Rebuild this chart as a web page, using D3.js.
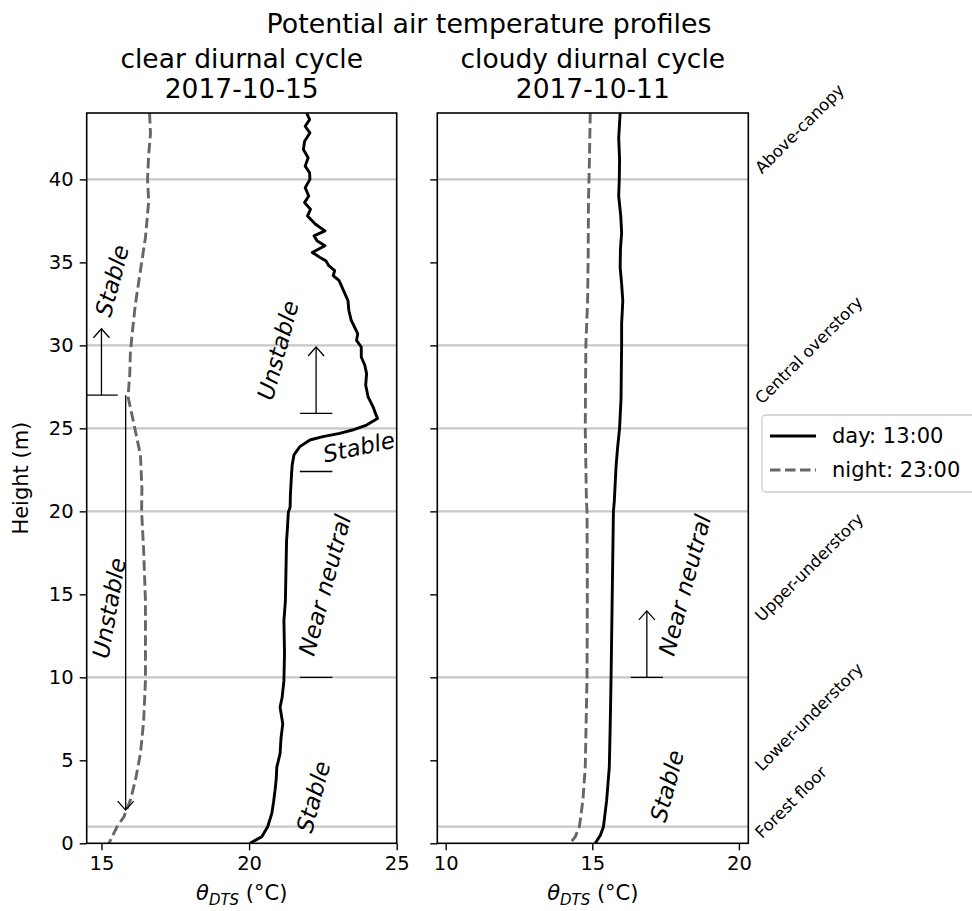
<!DOCTYPE html>
<html><head><meta charset="utf-8">
<script src="https://cdn.jsdelivr.net/npm/d3@7/dist/d3.min.js"></script>
<style>
body{margin:0;background:#fff}
text{font-family:"DejaVu Sans",sans-serif;fill:#000}
</style>
</head><body>
<svg id="c" width="972" height="911"></svg>
<script>
// ---------- data ----------
const mainTitle = "Potential air temperature profiles";
const panelTitles = [["clear diurnal cycle","2017-10-15"],["cloudy diurnal cycle","2017-10-11"]];
const heightTicks = [0,5,10,15,20,25,30,35,40];
const layerLines = [1,10,20,25,30,40];
const clearTicks = [15,20,25];
const cloudyTicks = [10,15,20];
const layerNames = ["Above-canopy","Central overstory","Upper-understory","Lower-understory","Forest floor"];
const layerLabelHeights = [40.3,26.4,13.3,4.3,0.25];
const seriesNames = ["day: 13:00","night: 23:00"];

// [height (m), theta (°C)]
const clearDay = [[44.0,21.95],[43.6,22.05],[43.2,21.9],[42.8,22.06],[42.3,21.88],[41.8,21.84],[41.3,22.0],[40.8,21.9],[40.4,22.05],[40.0,22.06],[39.5,21.9],[39.0,22.02],[38.6,21.88],[38.2,22.08],[37.8,21.98],[37.3,22.25],[36.9,22.57],[36.6,22.2],[36.3,22.3],[36.0,22.57],[35.6,22.14],[35.3,22.4],[35.1,22.6],[34.8,22.7],[34.5,22.9],[34.2,22.85],[33.9,23.05],[33.3,23.2],[32.7,23.35],[32.1,23.38],[31.5,23.46],[31.0,23.6],[30.7,23.68],[30.3,23.64],[29.9,23.8],[29.3,23.8],[28.8,23.92],[28.3,23.98],[27.6,23.95],[26.9,24.03],[26.3,24.2],[25.9,24.28],[25.6,24.35],[25.2,23.98],[24.9,23.5],[24.7,23.07],[24.5,22.5],[24.3,22.06],[23.9,21.72],[23.4,21.52],[22.8,21.46],[22.3,21.44],[21.0,21.4],[20.25,21.39],[19.95,21.33],[19.0,21.3],[18.25,21.27],[16.5,21.25],[14.6,21.23],[13.4,21.18],[11.5,21.2],[9.8,21.18],[8.8,21.12],[8.2,21.05],[7.2,21.14],[6.3,21.08],[5.4,21.05],[4.6,20.94],[3.9,20.92],[3.2,20.88],[2.5,20.83],[1.8,20.77],[1.0,20.63],[0.4,20.43],[0.0,20.03]];
const clearNight = [[44,16.63],[42.75,16.66],[41.5,16.6],[40,16.56],[38.7,16.6],[36.5,16.49],[34.5,16.32],[32.5,16.15],[30.7,16.04],[29.6,15.98],[28.3,15.96],[26.9,15.9],[25.5,16.07],[23.4,16.32],[21.4,16.37],[20.0,16.36],[17.6,16.43],[14.6,16.49],[9.8,16.49],[7.4,16.43],[5.4,16.32],[3.8,16.15],[2.6,15.98],[1.6,15.76],[1.0,15.53],[0.0,15.25]];
const cloudyDay = [[44,15.95],[42.5,15.9],[41.2,15.93],[40,15.92],[39,15.9],[37.8,15.97],[36.8,16.0],[35.8,15.96],[34.7,15.95],[33.7,16.0],[32.7,16.04],[31.3,16.0],[30,16.0],[28.5,15.99],[26.8,15.98],[25,15.93],[23.8,15.86],[22.7,15.81],[20.6,15.75],[20,15.72],[15,15.68],[10,15.64],[7,15.61],[4.6,15.58],[2.6,15.49],[1.0,15.38],[0.5,15.28],[0,15.1]];
const cloudyNight = [[44,14.93],[41,14.9],[38.7,14.87],[35.5,14.86],[32.7,14.84],[30,14.78],[25,14.76],[20.6,14.8],[20,14.82],[15,14.83],[10,14.82],[4.6,14.76],[2.6,14.68],[1,14.56],[0.4,14.42],[0,14.24]];

// annotation data (data coordinates)
const clearArrows = [{t:15.0,from:27,to:31,bar:true},{t:15.82,from:27,to:2,bar:false},{t:22.27,from:25.9,to:29.9,bar:true}];
const clearBars = [{t:22.27,h:22.4},{t:22.27,h:10}];
const clearNotes = [
  {text:"Stable",t:15.36,h:33.9,rot:-75},
  {text:"Unstable",t:15.26,h:14.17,rot:-80},
  {text:"Unstable",t:20.98,h:29.7,rot:-75},
  {text:"Stable",t:23.72,h:23.87,rot:-12},
  {text:"Near neutral",t:22.57,h:15.56,rot:-75},
  {text:"Stable",t:22.18,h:2.8,rot:-75}
];
const cloudyArrows = [{t:16.86,from:10,to:14,bar:true}];
const cloudyBars = [];
const cloudyNotes = [
  {text:"Near neutral",t:18.16,h:15.56,rot:-75},
  {text:"Stable",t:17.55,h:3.45,rot:-75}
];
const barHalf = 0.55;

// ---------- drawing ----------
const svg = d3.select("#c");
const y = d3.scaleLinear().domain([0,44]).range([843.3,113]);
const panels = [
  {x: d3.scaleLinear().domain([14.5,25]).range([86.7,396.7]), ticks: clearTicks, day: clearDay, night: clearNight, arrows: clearArrows, bars: clearBars, notes: clearNotes, title: panelTitles[0], labels:true},
  {x: d3.scaleLinear().domain([9.714,20.32]).range([437.3,748.3]), ticks: cloudyTicks, day: cloudyDay, night: cloudyNight, arrows: cloudyArrows, bars: cloudyBars, notes: cloudyNotes, title: panelTitles[1], labels:false}
];

svg.append("text").attr("x",489).attr("y",33).attr("text-anchor","middle").style("font-size","26.8px").text(mainTitle);

panels.forEach((p,i)=>{
  const x = p.x;
  const [x0,x1] = x.range();
  const cid = "clip"+i;
  svg.append("clipPath").attr("id",cid).append("rect").attr("x",x0).attr("y",y(44)).attr("width",x1-x0).attr("height",y(0)-y(44));
  const g = svg.append("g");
  // layer lines
  g.append("g").attr("clip-path",`url(#${cid})`).selectAll("line").data(layerLines).join("line")
    .attr("x1",x0).attr("x2",x1).attr("y1",d=>y(d)).attr("y2",d=>y(d))
    .attr("stroke","#c8c8c8").attr("stroke-width",2.2);
  const line = d3.line().x(d=>x(d[1])).y(d=>y(d[0]));
  const cg = g.append("g").attr("clip-path",`url(#${cid})`);
  cg.append("path").datum(p.night).attr("d",line).attr("fill","none").attr("stroke","#666")
    .attr("stroke-width",2.9).attr("stroke-dasharray","10.5,4.5");
  cg.append("path").datum(p.day).attr("d",line).attr("fill","none").attr("stroke","#000")
    .attr("stroke-width",2.9).attr("stroke-linejoin","round");
  // annotation arrows and bars
  const ag = g.append("g").attr("clip-path",`url(#${cid})`).attr("stroke","#000").attr("stroke-width",1.3).attr("fill","none");
  p.arrows.forEach(a=>{
    const ax = x(a.t), ys = y(a.from), ye = y(a.to);
    ag.append("line").attr("x1",ax).attr("x2",ax).attr("y1",ys).attr("y2",ye);
    const dir = ye < ys ? 1 : -1;
    ag.append("path").attr("d",`M${ax-8},${ye+dir*9}L${ax},${ye}L${ax+8},${ye+dir*9}`);
    if(a.bar) ag.append("line").attr("x1",x(a.t-barHalf)).attr("x2",x(a.t+barHalf)).attr("y1",ys).attr("y2",ys);
  });
  p.bars.forEach(b=>{
    ag.append("line").attr("x1",x(b.t-barHalf)).attr("x2",x(b.t+barHalf)).attr("y1",y(b.h)).attr("y2",y(b.h));
  });
  p.notes.forEach(n=>{
    g.append("text").attr("transform",`translate(${x(n.t)},${y(n.h)}) rotate(${n.rot})`)
      .attr("text-anchor","middle").attr("dominant-baseline","central")
      .style("font-size","23px").style("font-style","italic").text(n.text);
  });
  // frame
  g.append("rect").attr("x",x0).attr("y",y(44)).attr("width",x1-x0).attr("height",y(0)-y(44))
    .attr("fill","none").attr("stroke","#000").attr("stroke-width",1.6);
  // axes
  const xa = d3.axisBottom(x).tickValues(p.ticks).tickSize(7).tickPadding(6).tickFormat(d3.format("d"));
  const xg = svg.append("g").attr("transform",`translate(0,${y(0)})`).call(xa);
  const ya = d3.axisLeft(y).tickValues(heightTicks).tickSize(7).tickPadding(6);
  if(!p.labels) ya.tickFormat("");
  const yg = svg.append("g").attr("transform",`translate(${x0},0)`).call(ya);
  [xg,yg].forEach(ax=>{
    ax.select(".domain").remove();
    ax.selectAll(".tick line").attr("stroke","#000").attr("stroke-width",1.4);
    ax.selectAll(".tick text").style("font-size","19.5px").style("font-family","DejaVu Sans").attr("fill","#000");
  });
  // x label
  const cx = (x0+x1)/2;
  const xl = svg.append("text").attr("x",cx).attr("y",900).attr("text-anchor","middle").style("font-size","21px");
  xl.append("tspan").style("font-style","italic").text("θ");
  xl.append("tspan").style("font-style","italic").style("font-size","15px").attr("dy",5).text("DTS");
  xl.append("tspan").attr("dy",-5).text(" (°C)");
  // panel titles
  svg.append("text").attr("x",cx).attr("y",68).attr("text-anchor","middle").style("font-size","26.5px").text(p.title[0]);
  svg.append("text").attr("x",cx).attr("y",98).attr("text-anchor","middle").style("font-size","26.5px").text(p.title[1]);
});

// y label
svg.append("text").attr("transform",`translate(28,${(y(0)+y(44))/2}) rotate(-90)`).attr("text-anchor","middle")
  .style("font-size","21px").text("Height (m)");

// layer names
svg.append("g").selectAll("text").data(layerNames).join("text")
  .attr("transform",(d,i)=>`translate(762,${y(layerLabelHeights[i])}) rotate(-45)`)
  .style("font-size","16.5px").text(d=>d);

// legend
const lg = svg.append("g");
lg.append("rect").attr("x",762).attr("y",415).attr("width",240).attr("height",77).attr("rx",4)
  .attr("fill","#fff").attr("stroke","#cccccc").attr("stroke-width",1.3);
const legendStyles = [{stroke:"#000",dash:null},{stroke:"#666",dash:"10.5,4.5"}];
seriesNames.forEach((s,i)=>{
  const ly = 436 + i*34;
  lg.append("line").attr("x1",770).attr("x2",816).attr("y1",ly).attr("y2",ly)
    .attr("stroke",legendStyles[i].stroke).attr("stroke-width",2.9).attr("stroke-dasharray",legendStyles[i].dash);
  lg.append("text").attr("x",832).attr("y",ly).attr("dominant-baseline","central").style("font-size","21px").text(s);
});
</script>
</body></html>
